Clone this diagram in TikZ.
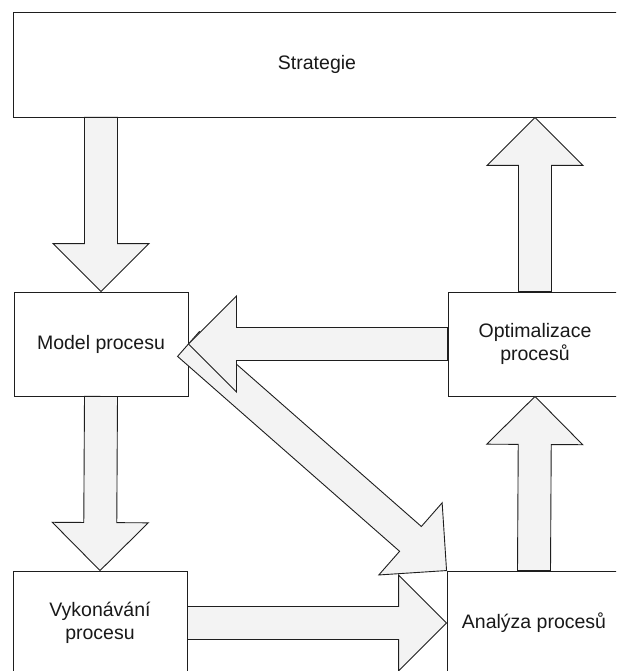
\documentclass[tikz,border=0pt]{standalone}
\usepackage{fontspec}
\setmainfont{Liberation Sans}
\usetikzlibrary{calc}

\definecolor{inkline}{RGB}{30,30,30}
\definecolor{arrowfill}{RGB}{243,243,243}

\tikzset{
  box/.style={draw=inkline, line width=0.9pt, fill=white,
    minimum width=174pt, minimum height=104pt, inner sep=0pt,
    align=center, font=\fontsize{19.5}{23}\selectfont, text=black!90},
  fatarrow/.style={draw=inkline, line width=0.9pt, fill=arrowfill, line join=miter},
}

% Broad block arrow from #1 to #2: shaft 33pt wide, head 96pt wide and 48pt long
\newcommand{\blockarrow}[2]{%
  \path[fatarrow]
    ($(#1)!16.5pt!90:(#2)$)
    -- ($($(#2)!48pt!(#1)$)!16.5pt!90:(#2)$)
    -- ($($(#2)!48pt!(#1)$)!48pt!90:(#2)$)
    -- (#2)
    -- ($($(#2)!48pt!(#1)$)!48pt!-90:(#2)$)
    -- ($($(#2)!48pt!(#1)$)!16.5pt!-90:(#2)$)
    -- ($(#1)!16.5pt!-90:(#2)$)
    -- cycle;}

\begin{document}
\begin{tikzpicture}[x=1pt, y=-1pt]
  \clip (0,0) rectangle (616,671);
  \fill[white] (0,0) rectangle (616,671);

  % boxes
  \node[box, minimum width=608pt, minimum height=105pt] (strat) at (317,64.5) {Strategie};
  \node[box] (model) at (101,344) {Model procesu};
  \node[box] (exec)  at (100,623) {Vykonávání\\procesu};
  \node[box] (optim) at (535,344) {Optimalizace\\procesů};
  \node[box] (anal)  at (534,623) {Analýza procesů};

  % arrow end points on box borders
  \coordinate (s1) at (model.north |- strat.south);
  \coordinate (s2) at (optim.north |- strat.south);

  % arrows
  \blockarrow{model.east}{anal.north west}
  \blockarrow{optim.west}{model.east}
  \blockarrow{s1}{model.north}
  \blockarrow{model.south}{exec.north}
  \blockarrow{exec.east}{anal.west}
  \blockarrow{anal.north}{optim.south}
  \blockarrow{optim.north}{s2}
\end{tikzpicture}
\end{document}
